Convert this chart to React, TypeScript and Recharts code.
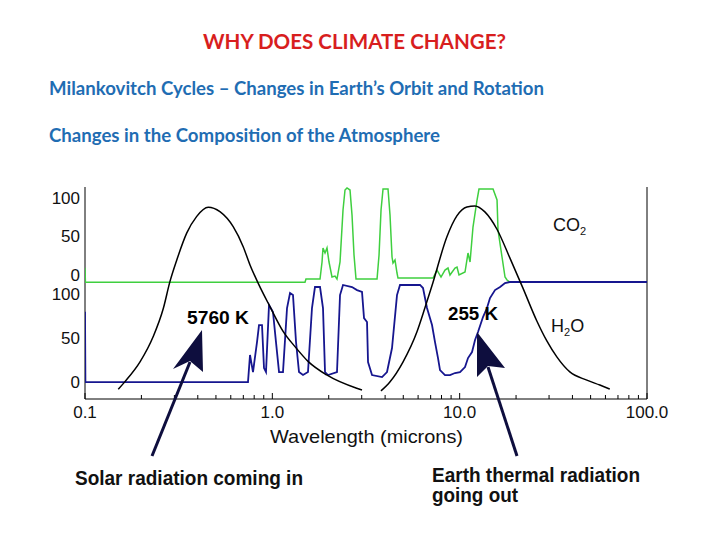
import React from 'react';
import { ComposedChart, Line, XAxis, YAxis, ReferenceLine } from 'recharts';

// CO2 absorption (%) against wavelength (microns), upper panel
const co2Wavelength = [0.1, 0.1005, 1.494, 1.512, 1.797, 1.842, 1.864, 1.911, 1.958, 2.007, 2.082, 2.161, 2.214, 2.298, 2.384, 2.443, 2.504, 2.598, 2.663, 2.729, 2.797, 3.622, 3.712, 3.804, 3.899, 4.145, 4.248, 4.354, 4.407, 4.517, 4.629, 4.686, 7.207, 7.569, 7.951, 8.35, 8.664, 8.879, 9.443, 9.678, 9.919, 10.68, 11.08, 11.36, 11.78, 12.38, 12.68, 15.07, 15.83, 16.02, 16.83, 17.46, 17.9, 18.57, 100];
const co2Absorption = [9.5, -9.5, -9.5, -5.2, -5.2, 16.9, 35.1, 28.6, 35.1, 16.9, -2.6, -1.3, -5.2, 16.9, 84.4, 110.4, 113, 110.4, 77.9, 26, -5.2, -5.2, 26, 84.4, 111.7, 111.7, 77.9, 23.4, 15.6, 19.5, 2.6, -3.9, -3.9, 6.5, -2.6, 6.5, 9.1, 0, 9.1, 10.4, 0, 3.9, 28.6, 16.9, 62.3, 97.4, 111.7, 111.7, 97.4, 58.4, 23.4, -2.6, -6.5, -9.5, -9.5];

// H2O absorption (%) against wavelength (microns), lower panel
const h2oWavelength = [0.1, 0.1005, 0.7415, 0.76, 0.7885, 0.8283, 0.8489, 0.8808, 0.9027, 0.9252, 0.96, 1.008, 1.046, 1.086, 1.14, 1.198, 1.243, 1.289, 1.338, 1.388, 1.458, 1.55, 1.628, 1.689, 1.797, 1.864, 1.911, 1.983, 2.214, 2.298, 2.384, 2.663, 2.831, 3.011, 3.086, 3.202, 3.242, 3.405, 3.851, 4.094, 4.354, 4.629, 4.803, 6.142, 6.373, 6.693, 7.119, 7.386, 7.663, 7.854, 8.35, 8.879, 9.443, 10.04, 10.68, 11.08, 11.64, 12.08, 12.53, 13.32, 13.99, 14.52, 15.44, 16.43, 17.46, 18.57, 100];
const h2oAbsorption = [80.3, 0, 0, 30.9, 11.4, 45.7, 65.1, 65.1, 16, 11.4, 88, 80, 45.7, 11.4, 11.4, 84.6, 101.7, 99.4, 45.7, 11.4, 8, 11.4, 84.6, 108.6, 108.6, 84.6, 11.4, 8, 11.4, 99.4, 110.9, 108.6, 105.1, 102.9, 73.1, 68.6, 22.9, 8, 5.7, 11.4, 38.9, 99.4, 110.9, 110.9, 107.4, 84.6, 65.1, 45.7, 27.4, 13.7, 8, 8, 10.3, 11.4, 17.1, 27.4, 34.3, 48, 57.1, 74.3, 84.6, 96, 105.1, 108.6, 113.1, 114.3, 114.3];

// Normalised blackbody emission of the Sun (5760 K) and the Earth (255 K)
const solarWavelength = [0.1505, 0.1635, 0.197, 0.231, 0.262, 0.284, 0.309, 0.349, 0.394, 0.455, 0.525, 0.618, 0.699, 0.76, 0.841, 0.972, 1.144, 1.321, 1.556, 1.951, 2.821, 3.011];
const solarIntensity = [4.1, 8.1, 18.6, 31.7, 46.7, 60.7, 72.1, 86.2, 94.9, 99.8, 97.5, 89.6, 79.1, 69.5, 59.8, 47.5, 34.4, 26.5, 18.6, 11.6, 4.6, 3.7];
const earthWavelength = [3.8, 4.24, 4.98, 5.91, 6.52, 7.19, 8.54, 9.66, 10.93, 12.05, 13.63, 15.79, 18.53, 21.74, 25.82, 29.2, 33.01, 38.73, 47.74, 56.0, 63.3];
const earthIntensity = [3.2, 7.9, 18.4, 34.2, 46.8, 60.0, 84.2, 95.3, 100, 100.5, 97.4, 88.4, 73.2, 57.4, 40.0, 29.5, 21.1, 13.2, 8.9, 6.3, 4.2];

// Axis ticks
const X_MAJOR = [0.1, 1, 10, 100];
const X_MAJOR_LABELS = ['0.1', '1.0', '10.0', '100.0'];
const X_MINOR = [0.2, 0.3, 0.4, 0.5, 0.6, 0.7, 0.8, 0.9, 2, 3, 4, 5, 6, 7, 8, 9, 20, 30, 40, 50, 60, 70, 80, 90];
const Y_TICKS = [0, 50, 100];

const rows = (w: number[], v: number[]) => w.map((wl, i) => ({ w: wl, v: v[i] }));
const co2Rows = rows(co2Wavelength, co2Absorption);
const h2oRows = rows(h2oWavelength, h2oAbsorption);
const solarRows = rows(solarWavelength, solarIntensity);
const earthRows = rows(earthWavelength, earthIntensity);
const xTicks = [...X_MAJOR, ...X_MINOR].sort((a, b) => a - b);

const AXIS_FONT = "'Liberation Sans', Arial, sans-serif";
const SLIDE_FONT = "Lato, 'Open Sans', sans-serif";
const ARROW = '#0e0e3e';

function XTick(props: any) {
  const { x, y, payload } = props;
  const i = X_MAJOR.indexOf(payload.value);
  const major = i >= 0;
  return (
    <g>
      <line x1={x} x2={x} y1={y} y2={y - (major ? 6 : 4)} stroke="#000" strokeWidth={1} />
      {major && (
        <text x={x} y={y + 13} textAnchor="middle" dominantBaseline="central" fontSize={17} fontFamily={AXIS_FONT} fill="#111">
          {X_MAJOR_LABELS[i]}
        </text>
      )}
    </g>
  );
}

function YTick(props: any) {
  const { y, payload } = props;
  return (
    <text x={80} y={y} textAnchor="end" dominantBaseline="central" fontSize={17} fontFamily={AXIS_FONT} fill="#111">
      {payload.value}
    </text>
  );
}

export default function App() {
  return (
    <div style={{ position: 'absolute', left: 0, top: 0, width: 720, height: 540, background: '#fff', overflow: 'hidden' }}>
      <div style={{ position: 'absolute', left: 0, top: 0 }}>
        <ComposedChart width={720} height={540} margin={{ top: 187, right: 73, bottom: 111, left: 25 }}>
          <XAxis
            xAxisId="w"
            type="number"
            dataKey="w"
            scale="log"
            domain={[0.1, 100]}
            allowDataOverflow
            ticks={xTicks}
            interval={0}
            tickSize={0}
            tickMargin={0}
            tickLine={false}
            axisLine={{ stroke: '#000', strokeWidth: 1 }}
            tick={XTick}
            height={30}
          />
          <YAxis yAxisId="co2" type="number" domain={[-161, 114.3]} allowDataOverflow ticks={Y_TICKS} interval={0} axisLine={false} tickLine={false} tick={YTick} width={30} />
          <YAxis yAxisId="h2o" type="number" domain={[-19.4, 222.9]} allowDataOverflow ticks={Y_TICKS} interval={0} axisLine={false} tickLine={false} tick={YTick} width={30} />
          <YAxis yAxisId="bb" type="number" domain={[-1.05, 110.5]} allowDataOverflow hide />
          <ReferenceLine xAxisId="w" yAxisId="h2o" x={0.1} stroke="#000" strokeWidth={1} ifOverflow="visible" />
          <ReferenceLine xAxisId="w" yAxisId="h2o" x={100} stroke="#000" strokeWidth={1} ifOverflow="visible" />
          <Line xAxisId="w" yAxisId="co2" data={co2Rows} dataKey="v" type="linear" stroke="#3fcf3f" strokeWidth={1.5} dot={false} activeDot={false} isAnimationActive={false} />
          <Line xAxisId="w" yAxisId="h2o" data={h2oRows} dataKey="v" type="linear" stroke="#16168f" strokeWidth={1.8} dot={false} activeDot={false} isAnimationActive={false} />
          <Line xAxisId="w" yAxisId="bb" data={solarRows} dataKey="v" type="monotone" stroke="#000" strokeWidth={1.5} dot={false} activeDot={false} isAnimationActive={false} />
          <Line xAxisId="w" yAxisId="bb" data={earthRows} dataKey="v" type="monotone" stroke="#000" strokeWidth={1.5} dot={false} activeDot={false} isAnimationActive={false} />
        </ComposedChart>
      </div>
      <svg width={720} height={540} style={{ position: 'absolute', left: 0, top: 0, pointerEvents: 'none' }}>
        <text x={203} y={41} textLength={303} lengthAdjust="spacingAndGlyphs" dominantBaseline="central" fontFamily={SLIDE_FONT} fontWeight={700} fontSize={20} fill="#d81e1e">
          WHY DOES CLIMATE CHANGE?
        </text>
        <text x={49} y={87} textLength={495} lengthAdjust="spacingAndGlyphs" dominantBaseline="central" fontFamily={SLIDE_FONT} fontWeight={700} fontSize={19} fill="#1f6db3">
          Milankovitch Cycles – Changes in Earth’s Orbit and Rotation
        </text>
        <text x={49} y={134} textLength={391} lengthAdjust="spacingAndGlyphs" dominantBaseline="central" fontFamily={SLIDE_FONT} fontWeight={700} fontSize={19} fill="#1f6db3">
          Changes in the Composition of the Atmosphere
        </text>

        <text x={187} y={318} textLength={62} lengthAdjust="spacingAndGlyphs" dominantBaseline="central" fontFamily={AXIS_FONT} fontWeight={700} fontSize={18} fill="#000">5760 K</text>
        <text x={448} y={314} textLength={50} lengthAdjust="spacingAndGlyphs" dominantBaseline="central" fontFamily={AXIS_FONT} fontWeight={700} fontSize={18} fill="#000">255 K</text>
        <text x={553} y={225} dominantBaseline="central" fontFamily={AXIS_FONT} fontSize={18} fill="#111">
          CO<tspan fontSize={11} dy={6}>2</tspan>
        </text>
        <text x={551} y={326} dominantBaseline="central" fontFamily={AXIS_FONT} fontSize={18} fill="#111">
          H<tspan fontSize={11} dy={6}>2</tspan><tspan dy={-6}>O</tspan>
        </text>

        <text x={270} y={436} textLength={193} lengthAdjust="spacingAndGlyphs" dominantBaseline="central" fontFamily={AXIS_FONT} fontSize={19} fill="#111">
          Wavelength (microns)
        </text>

        <line x1={152} y1={456} x2={190} y2={362} stroke={ARROW} strokeWidth={3} />
        <polygon points="202,330 173,369 190,361 203,372" fill={ARROW} />
        <line x1={517} y1={456} x2={488} y2={367} stroke={ARROW} strokeWidth={3} />
        <polygon points="477,332 505,368 488,366 477,377" fill={ARROW} />

        <text x={75} y={478} textLength={228} lengthAdjust="spacingAndGlyphs" dominantBaseline="central" fontFamily={AXIS_FONT} fontWeight={700} fontSize={20} fill="#111">
          Solar radiation coming in
        </text>
        <text x={432} y={475} textLength={208} lengthAdjust="spacingAndGlyphs" dominantBaseline="central" fontFamily={AXIS_FONT} fontWeight={700} fontSize={20} fill="#111">
          Earth thermal radiation
        </text>
        <text x={432} y={495} textLength={86} lengthAdjust="spacingAndGlyphs" dominantBaseline="central" fontFamily={AXIS_FONT} fontWeight={700} fontSize={20} fill="#111">
          going out
        </text>
      </svg>
    </div>
  );
}
